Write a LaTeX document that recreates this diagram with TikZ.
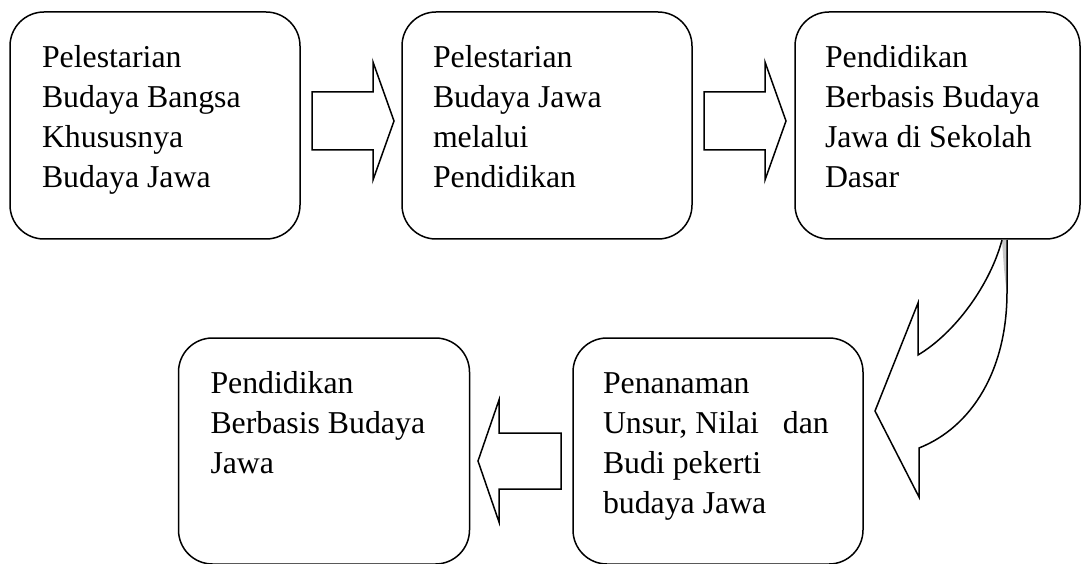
\documentclass[tikz,border=0pt]{standalone}
\usepackage{fontspec}
\setmainfont{Liberation Serif}
\usetikzlibrary{calc}
\begin{document}
\begin{tikzpicture}[x=1pt,y=-1pt,
 box/.style={draw, rounded corners=34pt, line width=1.5pt, minimum height=227pt, inner sep=0pt, outer sep=0pt},
 txt/.style={anchor=north west, inner sep=0pt, outer sep=0pt, align=left, font=\fontsize{31.8}{40}\selectfont},
 blockarrow/.style={draw, line width=1.5pt, line join=miter, fill=white}]
\useasboundingbox (0,0) rectangle (1082,564);
% boxes
\node[box, minimum width=290pt] (b1) at (155,125.5) {};
\node[box, minimum width=290pt] (b2) at (547,125.5) {};
\node[box, minimum width=285pt] (b3) at (937.5,125.5) {};
\node[box, minimum width=291pt, minimum height=226pt] (b4) at (324,451) {};
\node[box, minimum width=290pt, minimum height=226pt] (b5) at (718,451) {};
% texts
\node[txt] (t1) at ($(b1.north west)+(32,33)$) {\rule{0pt}{22pt}Pelestarian\\Budaya Bangsa\\Khususnya\\Budaya Jawa};
\node[txt] (t2) at ($(b2.north west)+(31,33)$) {\rule{0pt}{22pt}Pelestarian\\Budaya Jawa\\melalui\\Pendidikan};
\node[txt] (t3) at ($(b3.north west)+(30,33)$) {\rule{0pt}{22pt}Pendidikan\\Berbasis Budaya\\Jawa di Sekolah\\Dasar};
\node[txt] (t4) at ($(b4.north west)+(32,33)$) {\rule{0pt}{22pt}Pendidikan\\Berbasis Budaya\\Jawa};
\node[txt] (t5) at ($(b5.north west)+(30,33)$) {\rule{0pt}{22pt}Penanaman\\Unsur, Nilai\hspace*{16pt}\ dan\\Budi pekerti\\budaya Jawa};
% block arrows
\begin{scope}[shift={(b1.east)}]
\draw[blockarrow] (12,-33.5) -- (73,-33.5) -- (73,-63.5) -- (94,-4.5) -- (73,54.5) -- (73,24.5) -- (12,24.5) -- cycle;
\end{scope}
\begin{scope}[shift={(b2.east)}]
\draw[blockarrow] (12,-33.5) -- (73,-33.5) -- (73,-63.5) -- (94,-4.5) -- (73,54.5) -- (73,24.5) -- (12,24.5) -- cycle;
\end{scope}
\begin{scope}[shift={(b5.west)}]
\draw[blockarrow] (-12,-18) -- (-74,-18) -- (-74,-51) -- (-95,10) -- (-74,71) -- (-74,38) -- (-12,38) -- cycle;
\end{scope}
% curved arrow from b3 to b5
\fill[gray!45] (1002,240) -- (1007,240) -- (1007,295) .. controls (1004,270) .. (1002,240);
\draw[blockarrow, fill=none] (1002,240) .. controls (990,285) and (955,333) .. (918,355)
  -- (918,303) -- (875,411) -- (919,497) -- (919,448)
  .. controls (972,427) and (1007,370) .. (1007,292) -- (1007,240);
\end{tikzpicture}
\end{document}
